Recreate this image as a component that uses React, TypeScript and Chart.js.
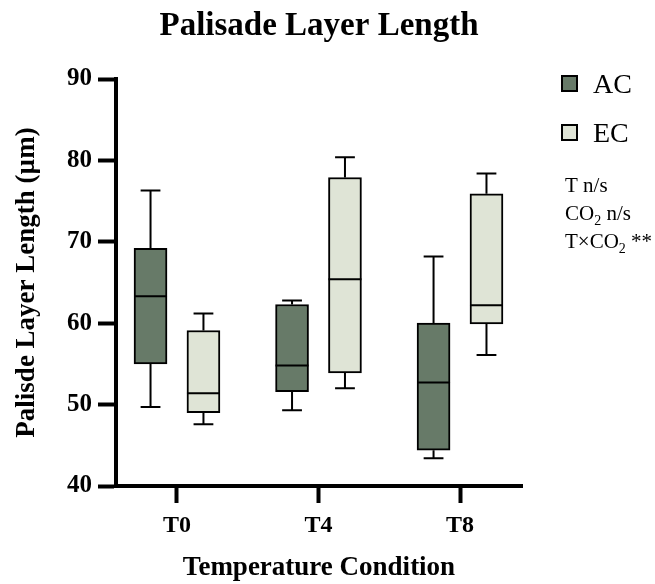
import React, { useEffect, useRef } from "react";
import { Chart, registerables } from "chart.js";

Chart.register(...registerables);

const categories = ["T0", "T4", "T8"];
const seriesNames = ["AC", "EC"];
const seriesColors = ["#677a68", "#dfe4d6"];

const acMin = [49.7, 49.3, 43.4];
const acQ1 = [55.0, 51.6, 44.4];
const acMedian = [63.3, 54.8, 52.7];
const acQ3 = [69.2, 62.3, 60.0];
const acMax = [76.3, 62.8, 68.2];

const ecMin = [47.6, 52.0, 56.1];
const ecQ1 = [49.0, 53.9, 59.9];
const ecMedian = [51.4, 65.4, 62.2];
const ecQ3 = [59.1, 77.9, 75.9];
const ecMax = [61.2, 80.4, 78.4];

const yMin = 40;
const yMax = 90;
const yStep = 10;

const groupOffset = 0.187;

const FONT = "'Liberation Serif', 'Times New Roman', serif";

const stats = [
  { min: acMin, q1: acQ1, med: acMedian, q3: acQ3, max: acMax },
  { min: ecMin, q1: ecQ1, med: ecMedian, q3: ecQ3, max: ecMax },
];

const whiskerPlugin = {
  id: "whiskers",
  afterDatasetsDraw(chart: any) {
    const ctx = chart.ctx;
    const yScale = chart.scales.y;
    ctx.save();
    ctx.strokeStyle = "#000";
    ctx.lineWidth = 2;
    stats.forEach((s, d) => {
      const meta = chart.getDatasetMeta(d);
      meta.data.forEach((el: any, i: number) => {
        const x = el.x;
        const w = el.width;
        const capHalf = w * 0.3;
        const pMin = yScale.getPixelForValue(s.min[i]);
        const pMax = yScale.getPixelForValue(s.max[i]);
        const pQ1 = yScale.getPixelForValue(s.q1[i]);
        const pQ3 = yScale.getPixelForValue(s.q3[i]);
        const pMed = yScale.getPixelForValue(s.med[i]);
        ctx.beginPath();
        ctx.moveTo(x, pQ3);
        ctx.lineTo(x, pMax);
        ctx.moveTo(x - capHalf, pMax);
        ctx.lineTo(x + capHalf, pMax);
        ctx.moveTo(x, pQ1);
        ctx.lineTo(x, pMin);
        ctx.moveTo(x - capHalf, pMin);
        ctx.lineTo(x + capHalf, pMin);
        ctx.moveTo(x - w / 2, pMed);
        ctx.lineTo(x + w / 2, pMed);
        ctx.stroke();
      });
    });
    ctx.restore();
  },
};

const legendPlugin = {
  id: "customLegend",
  afterDraw(chart: any) {
    const ctx = chart.ctx;
    ctx.save();
    const legendTops = [76, 125];
    const legendBaselines = [93, 142];
    seriesNames.forEach((name, i) => {
      ctx.fillStyle = seriesColors[i];
      ctx.fillRect(562, legendTops[i], 15, 15);
      ctx.strokeStyle = "#000";
      ctx.lineWidth = 2;
      ctx.strokeRect(562, legendTops[i], 15, 15);
      ctx.fillStyle = "#000";
      ctx.font = `28px ${FONT}`;
      ctx.textBaseline = "alphabetic";
      ctx.textAlign = "left";
      ctx.fillText(name, 593, legendBaselines[i]);
    });

    // statistics note
    const x0 = 565;
    const big = `21px ${FONT}`;
    const small = `14px ${FONT}`;
    const drawSegs = (segs: { t: string; sub?: boolean }[], baseline: number) => {
      let x = x0;
      segs.forEach((sg) => {
        ctx.font = sg.sub ? small : big;
        ctx.fillText(sg.t, x, sg.sub ? baseline + 5 : baseline);
        x += ctx.measureText(sg.t).width;
      });
    };
    drawSegs([{ t: "T n/s" }], 192);
    drawSegs([{ t: "CO" }, { t: "2", sub: true }, { t: " n/s" }], 220);
    drawSegs([{ t: "T×CO" }, { t: "2", sub: true }, { t: " **" }], 248);
    ctx.restore();
  },
};

export default function App() {
  const canvasRef = useRef<HTMLCanvasElement | null>(null);

  useEffect(() => {
    if (!canvasRef.current) return;
    const chart = new Chart(canvasRef.current, {
      type: "bar",
      data: {
        datasets: stats.map((s, d) => ({
          label: seriesNames[d],
          data: categories.map((_, i) => ({
            x: i + (d === 0 ? -groupOffset : groupOffset),
            y: [s.q1[i], s.q3[i]],
          })),
          backgroundColor: seriesColors[d],
          borderColor: "#000",
          borderWidth: 2,
          borderSkipped: false,
          barThickness: 33,
          grouped: false,
        })),
      } as any,
      options: {
        responsive: false,
        animation: false,
        devicePixelRatio: 1,
        font: { family: FONT },
        layout: { padding: { left: 0, right: 133, top: 0, bottom: 0 } },
        plugins: {
          legend: { display: false },
          tooltip: { enabled: false },
          title: {
            display: true,
            text: "Palisade Layer Length",
            color: "#000",
            fullSize: false,
            font: { family: FONT, size: 33, weight: "bold" },
            padding: { top: 7, bottom: 32.4 },
          },
        },
        scales: {
          x: {
            type: "linear",
            offset: false,
            min: -0.431,
            max: 2.438,
            afterBuildTicks(scale: any) {
              scale.ticks = categories.map((_, i) => ({ value: i }));
            },
            afterFit(scale: any) {
              scale.height = 98;
            },
            ticks: {
              color: "#000",
              padding: 8,
              font: { family: FONT, size: 24, weight: "bold" },
              callback: (v: any) => categories[v] ?? "",
            },
            grid: {
              display: true,
              offset: false,
              drawOnChartArea: false,
              drawTicks: true,
              tickLength: 17,
              tickWidth: 4,
              tickColor: "#000",
              color: "#000",
            },
            border: { display: true, width: 4, color: "#000" },
            title: {
              display: true,
              text: "Temperature Condition",
              color: "#000",
              font: { family: FONT, size: 27, weight: "bold" },
              padding: { top: 0, bottom: 0 },
            },
          },
          y: {
            type: "linear",
            min: yMin,
            max: yMax,
            afterFit(scale: any) {
              scale.width = 116;
            },
            ticks: {
              stepSize: yStep,
              color: "#000",
              padding: 6,
              font: { family: FONT, size: 25, weight: "bold" },
            },
            grid: {
              display: true,
              drawOnChartArea: false,
              drawTicks: true,
              tickLength: 18,
              tickWidth: 4,
              tickColor: "#000",
              color: "#000",
            },
            border: { display: true, width: 4, color: "#000" },
            title: {
              display: true,
              text: "Palisde Layer Length (µm)",
              color: "#000",
              font: { family: FONT, size: 27, weight: "bold" },
              padding: { top: 11, bottom: 0 },
            },
          },
        },
      },
      plugins: [whiskerPlugin, legendPlugin],
    } as any);
    return () => chart.destroy();
  }, []);

  return (
    <div style={{ position: "fixed", left: 0, top: 0, width: 655, height: 584, background: "#fff" }}>
      <canvas ref={canvasRef} width={655} height={584} style={{ width: 655, height: 584 }} />
    </div>
  );
}
